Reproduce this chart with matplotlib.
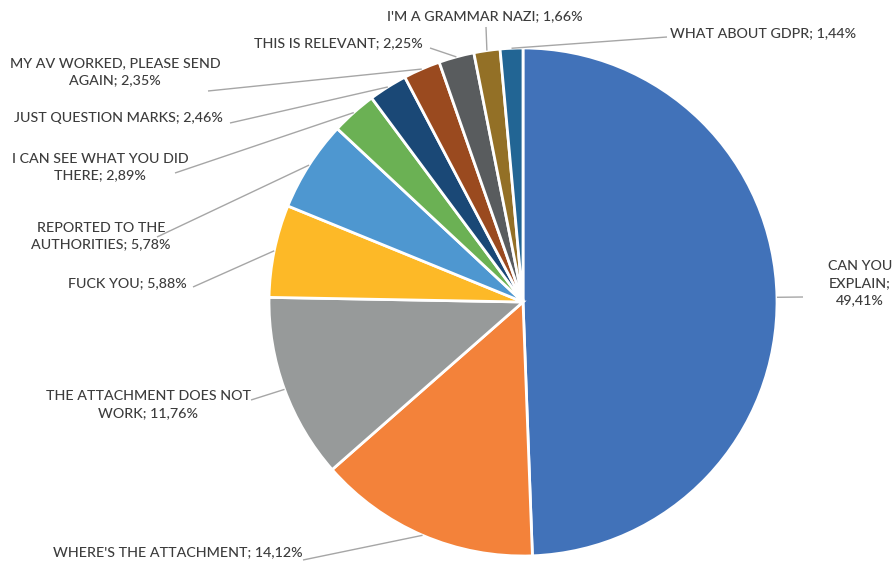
import numpy as np
import matplotlib
matplotlib.use("Agg")
import matplotlib.pyplot as plt

labels = ["CAN YOU\nEXPLAIN;\n49,41%",
          "WHERE'S THE ATTACHMENT; 14,12%",
          "THE ATTACHMENT DOES NOT\nWORK; 11,76%",
          "FUCK YOU; 5,88%",
          "REPORTED TO THE\nAUTHORITIES; 5,78%",
          "I CAN SEE WHAT YOU DID\nTHERE; 2,89%",
          "JUST QUESTION MARKS; 2,46%",
          "MY AV WORKED, PLEASE SEND\nAGAIN; 2,35%",
          "THIS IS RELEVANT; 2,25%",
          "I'M A GRAMMAR NAZI; 1,66%",
          "WHAT ABOUT GDPR; 1,44%"]
values = [49.41, 14.12, 11.76, 5.88, 5.78, 2.89, 2.46, 2.35, 2.25, 1.66, 1.44]
colors = ["#4172B9", "#F3823A", "#979A9A", "#FDB927", "#4E97D0", "#6BB154",
          "#1A4876", "#9A4A1F", "#595C5E", "#937026", "#226594"]

# layout (pixel coords, y from top)
W, H = 893, 561
cx, cy, R = 523, 302, 254
text_pos = [(860, 283), (178, 552), (148, 405), (127, 283), (101, 236),
            (100, 167), (118, 118), (115, 72), (338, 43), (485, 16), (763, 33)]
leader_end = [(803, 297), (303, 560), (251, 400), (193, 287), (157, 237),
              (175, 173), (230, 123), (208, 91), (430, 48), (486, 27), (667, 37)]

fig = plt.figure(figsize=(W / 100, H / 100), dpi=100)
ax = fig.add_axes([0, 0, 1, 1])

wedges, _ = ax.pie(values, colors=colors, startangle=90, counterclock=False,
                   center=(cx, H - cy), radius=R, frame=True,
                   wedgeprops=dict(edgecolor="white", linewidth=2))
ax.set_xlim(0, W)
ax.set_ylim(0, H)
ax.set_aspect("equal")
ax.axis("off")

for w, lab, tp, le in zip(wedges, labels, text_pos, leader_end):
    ang = np.deg2rad((w.theta1 + w.theta2) / 2)
    sx = cx + R * np.cos(ang)
    sy = (H - cy) + R * np.sin(ang)
    ax.plot([sx, le[0]], [sy, H - le[1]], color="#A6A6A6", lw=1.0,
            solid_capstyle="butt")
    ax.text(tp[0], H - tp[1], lab, ha="center", va="center",
            fontsize=10.3, family="Lato", fontweight=500, color="#3C3C3C",
            linespacing=1.5)

fig.savefig("out.png", dpi=100)
